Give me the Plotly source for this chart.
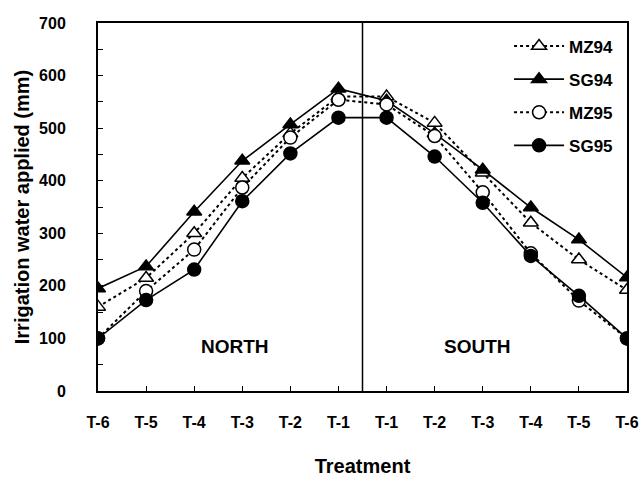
import plotly.graph_objects as go

x_labels = ["T-6", "T-5", "T-4", "T-3", "T-2", "T-1", "T-1", "T-2", "T-3", "T-4", "T-5", "T-6"]
x_pos = list(range(12))

mz94 = [160, 215, 300, 405, 490, 560, 560, 510, 415, 320, 250, 192]
sg94 = [195, 237, 341, 438, 507, 575, 552, 490, 421, 349, 288, 216]
mz95 = [100, 190, 269, 387, 482, 554, 545, 485, 378, 262, 172, 100]
sg95 = [100, 173, 231, 361, 452, 520, 520, 446, 358, 257, 181, 100]

y_ticks = list(range(0, 701, 50))
y_text = [str(v) if v % 100 == 0 else "" for v in y_ticks]

FONT = "Liberation Sans, Arial, sans-serif"

fig = go.Figure()

def add(name, ys, dash, symbol, fill):
    fig.add_trace(go.Scatter(
        x=x_pos, y=ys, name="<b>%s</b>" % name, mode="lines+markers",
        legendgroup=name,
        line=dict(color="black", width=1.6 if dash == "solid" else 2, dash=dash),
        marker=dict(symbol=symbol, size=13, color=fill,
                    line=dict(color="black", width=1.5)),
    ))

add("MZ94", mz94, "dot", "triangle-up", "white")
add("SG94", sg94, "solid", "triangle-up", "black")
add("MZ95", mz95, "dot", "circle", "white")
add("SG95", sg95, "solid", "circle", "black")

fig.add_shape(type="line", x0=5.5, x1=5.5, y0=0, y1=700, xref="x", yref="y",
              line=dict(color="black", width=1.5), layer="below")

fig.add_annotation(x=2.85, y=85, text="<b>NORTH</b>", showarrow=False,
                   font=dict(family=FONT, size=19, color="black"))
fig.add_annotation(x=7.9, y=85, text="<b>SOUTH</b>", showarrow=False,
                   font=dict(family=FONT, size=19, color="black"))

fig.update_layout(
    width=644, height=477,
    margin=dict(l=98, r=17, t=23, b=86),
    paper_bgcolor="white", plot_bgcolor="white",
    font=dict(family=FONT, size=14, color="black"),
    showlegend=True,
    legend=dict(x=0.985, y=0.985, xanchor="right", yanchor="top",
                bgcolor="rgba(0,0,0,0)", tracegroupgap=8,
                font=dict(family=FONT, size=17, color="black"),
                itemwidth=50),
    xaxis=dict(
        range=[0, 11], tickvals=x_pos, ticktext=["<b>%s</b>" % t for t in x_labels],
        ticks="inside", ticklen=5, tickcolor="black", automargin=False,
        showline=True, linecolor="black", linewidth=2, mirror=True,
        showgrid=False, zeroline=False, ticklabelstandoff=16,
        title=dict(text="<b>Treatment</b>", font=dict(family=FONT, size=20), standoff=32),
        tickfont=dict(family=FONT, size=16),
    ),
    yaxis=dict(
        range=[0, 700], tickvals=y_ticks, ticktext=["<b>%s</b>" % t if t else "" for t in y_text],
        ticks="inside", ticklen=5, tickcolor="black", automargin=False,
        showline=True, linecolor="black", linewidth=2, mirror=True,
        showgrid=False, zeroline=False, ticklabelstandoff=27,
        title=dict(text="<b>Irrigation water applied (mm)</b>", font=dict(family=FONT, size=20), standoff=4),
        tickfont=dict(family=FONT, size=16),
    ),
)

fig.write_html("out.html")
